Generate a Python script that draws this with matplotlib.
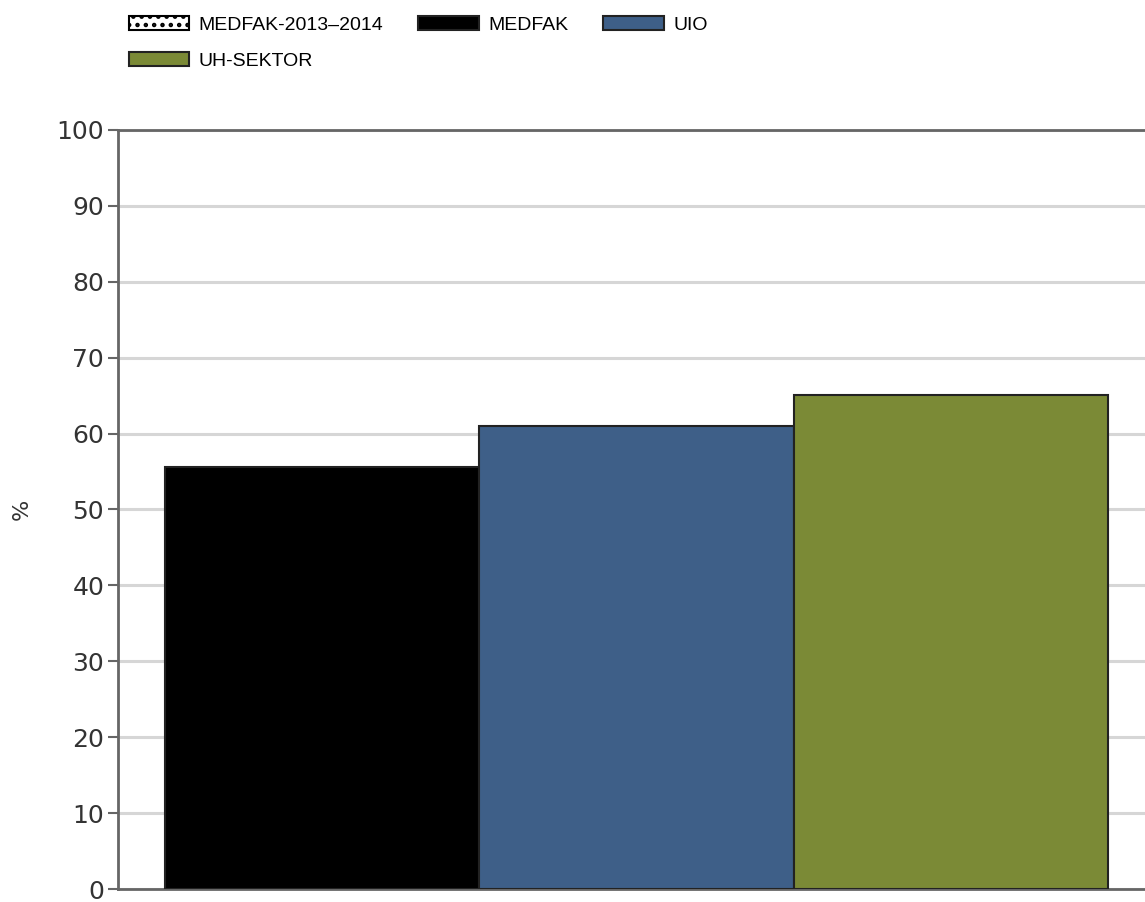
import matplotlib.pyplot as plt
from matplotlib.patches import Patch

# data
groups = ["MEDFAK", "UIO", "UH-SEKTOR"]
values = [55.6, 61.0, 65.1]
colors = ["#000000", "#3e5f88", "#7b8a36"]
legend_labels = ["MEDFAK-2013\u20132014", "MEDFAK", "UIO", "UH-SEKTOR"]

plt.rcParams["hatch.linewidth"] = 2.0

fig = plt.figure(figsize=(11.45, 9.02), dpi=100)
ax = fig.add_axes([0.1031, 0.0144, 0.9057, 0.8415])

ax.bar(range(len(groups)), values, width=1.0, color=colors,
       edgecolor="#222222", linewidth=1.5, zorder=3)

ax.set_xlim(-0.65, 2.65)
ax.set_ylim(0, 100)
ax.set_yticks(range(0, 101, 10))
ax.set_xticks([])
ax.yaxis.grid(True, color="#d6d6d6", linewidth=2.2, zorder=0)
ax.tick_params(axis="y", labelsize=18, colors="#666666", labelcolor="#333333",
               length=7, width=1.5, direction="out", pad=3)
for s in ["left", "bottom", "top", "right"]:
    ax.spines[s].set_color("#666666")
    ax.spines[s].set_linewidth(2)
ax.set_ylabel("%", fontsize=16, color="#333333", labelpad=18)

handles = [Patch(facecolor="white", edgecolor="black", hatch="..", linewidth=1.5)]
handles += [Patch(facecolor=c, edgecolor="#222222", linewidth=1.5) for c in colors]
# reorder so the legend reads row by row
order = [0, 3, 1, 2]
fig.legend([handles[i] for i in order], [legend_labels[i] for i in order],
           ncol=3, loc="upper left",
           bbox_to_anchor=(0.097, 1.002), frameon=False,
           prop={"family": "Liberation Sans", "size": 14},
           handlelength=3.1, handleheight=0.75, columnspacing=1.8,
           handletextpad=0.5, labelspacing=0.95)

fig.savefig("out.png", dpi=100)
